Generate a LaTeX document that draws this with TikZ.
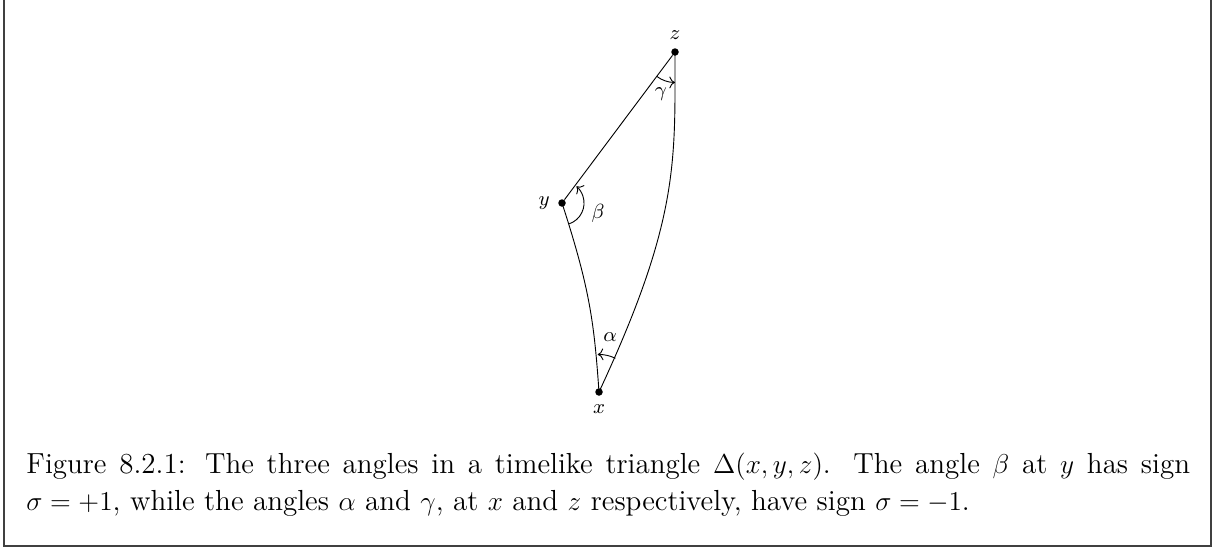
\documentclass[tikz,border=0pt]{standalone}
\usepackage{amsmath}
\usepackage{amssymb}
\usepackage{tikz}
\usetikzlibrary{arrows.meta, positioning}
\tikzset{
  vertex/.style={circle, fill=black, inner sep=0pt, minimum size=3.3pt},
  vlabel/.style={font=\fontsize{8.8}{10.5}\selectfont},
  anglemark/.style={->, thin},
}
\begin{document}
\begin{tikzpicture}[x=0.44pt, y=0.44pt]
    \useasboundingbox (0,0) rectangle (1214,-549);
    % Frame
    \draw[black!75, line width=0.5pt] (4,0) -- (4,-546) -- (1211,-546) -- (1211,0);
    % Vertices of the triangle
    \node[vertex, label={[vlabel]above:$z$}] (z) at (675,-52) {};
    \node[vertex, label={[vlabel]left:$y$}] (y) at (562,-203) {};
    \node[vertex, label={[vlabel]below:$x$}] (x) at (599,-392) {};
    % Sides
    \draw (y) -- (z);
    \draw (y.center) .. controls +(-72:90) and +(94:70) .. (x.center);
    \draw (x.center) .. controls +(65:190) and +(0,-110) .. (z.center);
    % Angles
    \draw[anglemark] ([shift={(-71:9.7pt)}]y.center) arc[start angle=-71, end angle=49, radius=9.7pt];
    \draw[anglemark] ([shift={(233:13.4pt)}]z.center) arc[start angle=233, end angle=270, radius=13.4pt];
    \draw[anglemark] ([shift={(64:16.5pt)}]x.center) arc[start angle=64, end angle=92, radius=16.5pt];
    \node[vlabel] (beta) at (598,-213) {$\beta$};
    \node[vlabel] (gamma) at (661,-94) {$\gamma$};
    \node[vlabel] (alpha) at (610,-337) {$\alpha$};
    % Caption
    \node[anchor=north west, inner sep=0pt, text width=512pt, align=justify,
          font=\fontsize{12.77}{16.3}\selectfont] (caption) at (26,-453)
      {Figure 8.2.1: The three angles in a timelike triangle $\Delta(x,y,z)$. The angle $\beta$ at $y$ has sign
       $\sigma=+1$, while the angles $\alpha$ and $\gamma$, at $x$ and $z$ respectively, have sign $\sigma=-1$.};
\end{tikzpicture}
\end{document}
